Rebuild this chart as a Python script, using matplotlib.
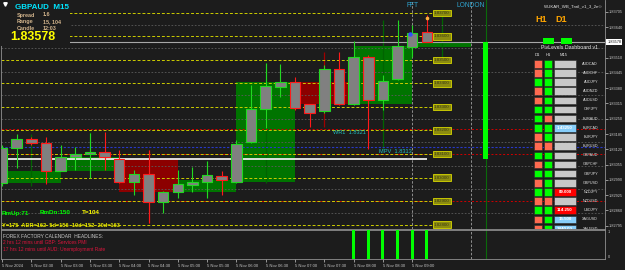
import matplotlib
matplotlib.use("Agg")
import matplotlib.pyplot as plt
import matplotlib.transforms as mtransforms
from matplotlib.patches import Rectangle
import numpy as np

plt.rcParams['font.family'] = ['Liberation Sans', 'DejaVu Sans']

# GBPAUD M15 candles, 5 Nov 2024 02:00 .. 09:15
opens = [1.82977, 1.83124, 1.83164, 1.83146, 1.83029, 1.83086, 1.83100, 1.83107,
         1.83078, 1.82980, 1.83015, 1.82897, 1.82940, 1.82968, 1.82980, 1.83006,
         1.82980, 1.83150, 1.83290, 1.83386, 1.83405, 1.83312, 1.83283, 1.83460,
         1.83312, 1.83512, 1.83330, 1.83418, 1.83557, 1.83618]
highs = [1.83138, 1.83185, 1.83172, 1.83172, 1.83138, 1.83129, 1.83191, 1.83192,
         1.83117, 1.83032, 1.83117, 1.82943, 1.83032, 1.83045, 1.83072, 1.83029,
         1.83160, 1.83394, 1.83486, 1.83483, 1.83426, 1.83313, 1.83479, 1.83535,
         1.83582, 1.83521, 1.83436, 1.83670, 1.83649, 1.83691]
lows = [1.82964, 1.83042, 1.83140, 1.82972, 1.83028, 1.83032, 1.82997, 1.83032,
        1.82977, 1.82926, 1.82808, 1.82849, 1.82913, 1.82940, 1.82913, 1.82926,
        1.82977, 1.83147, 1.83212, 1.83341, 1.83287, 1.83216, 1.83274, 1.83309,
        1.83309, 1.83120, 1.83287, 1.83415, 1.83514, 1.83578]
closes = [1.83126, 1.83164, 1.83146, 1.83029, 1.83086, 1.83100, 1.83107, 1.83086,
          1.82980, 1.83015, 1.82897, 1.82940, 1.82971, 1.82982, 1.83011, 1.82989,
          1.83141, 1.83292, 1.83389, 1.83405, 1.83294, 1.83273, 1.83460, 1.83312,
          1.83512, 1.83330, 1.83411, 1.83561, 1.83616, 1.83578]

time_labels = ['5 Nov 2024', '5 Nov 02:30', '5 Nov 03:00', '5 Nov 03:30', '5 Nov 04:00',
               '5 Nov 04:30', '5 Nov 05:00', '5 Nov 05:30', '5 Nov 06:00', '5 Nov 06:30',
               '5 Nov 07:00', '5 Nov 07:30', '5 Nov 08:00', '5 Nov 08:30', '5 Nov 09:00']

# signal sub-window (0/1 per candle)
signal = [0] * 24 + [1, 1, 1, 1, 1, 1]

round_levels = [1.83700, 1.83600, 1.83500, 1.83400, 1.83300,
                1.83200, 1.83100, 1.83000, 1.82900, 1.82800]
half_levels = [1.83650, 1.83550, 1.83450, 1.83350, 1.83250,
               1.83150, 1.83050, 1.82950, 1.82850]
price_ticks = [1.83705, 1.83640, 1.83510, 1.83445, 1.83380, 1.83315, 1.83250,
               1.83185, 1.83120, 1.83055, 1.82990, 1.82925, 1.82860, 1.82795]
red_levels = [1.83205, 1.83098, 1.82898]
wr1_level = 1.83205
mpv_level = 1.83128
day_start = 8          # candle index of the daily open
fft_bar, london_bar = 28, 32
d1_bar = 33.0

dash_pairs = ['AUDCAD', 'AUDCHF', 'AUDJPY', 'AUDNZD', 'AUDUSD', 'CHFJPY', 'EURAUD',
              'EURCAD', 'EURJPY', 'EURUSD', 'GBPAUD', 'GBPCHF', 'GBPJPY', 'GBPUSD',
              'NZDJPY', 'NZDUSD', 'USDJPY', 'XAGUSD', 'XAUUSD']
dash_d1 = ['dn', 'dn', 'up', 'dn', 'dn', 'up', 'up', 'up', 'dn', 'dn', 'up', 'dn',
           'up', 'dn', 'up', 'dn', 'up', 'dn', 'dn']
dash_h1 = ['up', 'up', 'up', 'up', 'up', 'up', 'dn', 'up', 'up', 'dn', 'up', 'up',
           'up', 'up', 'up', 'dn', 'up', 'up', 'up']
dash_m15 = ['', '', '', '', '', '', '', '1.43250', '', '', '', '', '', '',
            '89.000', '', '114.250', '15.500', '1440.00']
dash_m15_col = ['', '', '', '', '', '', '', 'blue', '', '', '', '', '', '',
                'red', '', 'red', 'blue', 'blue']

BG = '#1c1c1c'
UP, DN = '#22d822', '#ff1a1a'
ZONE_UP, ZONE_DN = '#007400', '#8c0000'
WICK_UP, WICK_DN = '#006400', '#a00000'

W, H = 625, 270
fig = plt.figure(figsize=(W / 100, H / 100), dpi=100, facecolor=BG)


def box(l, t, r, b):
    return [l / W, 1 - b / H, (r - l) / W, (b - t) / H]


ax = fig.add_axes(box(1.5, 0, 605, 229), facecolor=BG)
ax_sub = fig.add_axes(box(1.5, 230, 605, 259), facecolor=BG)
pxT = mtransforms.Affine2D().scale(1 / 100, -1 / 100).translate(0, H / 100) + fig.dpi_scale_trans

o = np.array(opens); h = np.array(highs); l = np.array(lows); c = np.array(closes)
n = len(o)
x = np.arange(n)
xlim = (-0.5 / 14.65, 603 / 14.65)

# hourly boxes and their wicks
for s in range(0, n, 4):
    e = min(s + 4, n)
    ho, hc = o[s], c[e - 1]
    up = hc >= ho
    ax.add_patch(Rectangle((s, min(ho, hc)), 4, abs(hc - ho),
                           fc=ZONE_UP if up else ZONE_DN, ec='none', zorder=1))
    ax.vlines(s + 2, l[s:e].min(), h[s:e].max(), colors=WICK_UP if up else WICK_DN,
              lw=0.9, zorder=1.2)

# level lines
for lv in half_levels:
    ax.axhline(lv, color='#5c5c5c', lw=0.6, ls=(0, (2, 2)), zorder=1.5)
for lv in red_levels:
    ax.axhline(lv, color='#d00000', lw=0.7, ls=(0, (2, 2)), zorder=1.8)
ax.axhline(mpv_level, color='#2838c8', lw=0.8, ls=(0, (2, 1.5)), zorder=1.8)
ax.hlines(round_levels, xlim[0], 29.35, colors='#cccc00', lw=0.7,
          linestyles=(0, (3, 2)), zorder=2)
ax.hlines(o[day_start], xlim[0], n - 1, colors='#ececec', lw=1.3, zorder=2.5)
ax.axhline(c[-1], xmin=0.113, color='#a8a8a8', lw=0.8, zorder=2.5)

for a in (ax, ax_sub):
    a.axvline(fft_bar, color='#a0a0a0', lw=0.6, ls=(0, (3, 2)), zorder=2)
    a.axvline(london_bar, color='#a0a0a0', lw=0.6, ls=(0, (3, 2)), zorder=2)
    a.axvline(d1_bar + 0.05, color='#0a6a0a', lw=0.8, zorder=2)

# daily body
ax.bar(d1_bar, c[-1] - o[day_start], bottom=o[day_start], width=0.34,
       color='#00ff00', zorder=3)

# candles
edge = np.where(c >= o, UP, DN)
ax.vlines(x, l, h, colors=edge, lw=0.8, zorder=4)
ax.bar(x, np.maximum(np.abs(c - o), 0.00002), bottom=np.minimum(o, c), width=0.72,
       color='#808080', edgecolor=edge, linewidth=0.8, zorder=5)

# round level tags
for lv in round_levels:
    ax.text(30.03, lv, f'{lv:.5f}', ha='center', va='center', fontsize=3.2,
            color='#3a3a10', zorder=6,
            bbox=dict(boxstyle='square,pad=0.3', fc='#8c8c10', ec='#d8d800', lw=0.6))

ax.text(22.6, 1.83190, 'WR1  1.8321', ha='left', va='center', fontsize=4.1,
        color='#20c0c0', zorder=7)
ax.text(25.7, 1.83109, 'MPV  1.8313', ha='left', va='center', fontsize=4.1,
        color='#20c0c0', zorder=7)
tb = mtransforms.blended_transform_factory(ax.transData, ax.transAxes)
ax.text(fft_bar, 0.974, 'FFT', transform=tb, ha='center', va='center', fontsize=4.8,
        color='#2fa4d0', zorder=7)
ax.text(london_bar, 0.974, 'LONDON', transform=tb, ha='center', va='center',
        fontsize=4.8, color='#2fa4d0', zorder=7)
ax.plot([27.85], [1.83611], marker='o', ms=2.2, color='#3050ff', zorder=7)
ax.plot([29], [1.83679], marker='o', ms=1.6, color='#ffb040', zorder=7)

# bid price tag on the axis
tr = mtransforms.blended_transform_factory(ax.transAxes, ax.transData)
ax.text(1.004, c[-1], f'{c[-1]:.5f}', transform=tr, ha='left', va='center',
        fontsize=2.8, color='#101010', zorder=9, clip_on=False,
        bbox=dict(boxstyle='square,pad=0.25', fc='white', ec='none'))

# top-left info
ax.add_patch(Rectangle((0, 0), 70, 46, transform=pxT, fc=BG, ec='none', zorder=6))
ax.plot([4.8], [3.8], transform=pxT, marker='v', ms=2.5, color='white', zorder=7,
        clip_on=False)
ax.text(15, 7.5, 'GBPAUD  M15', transform=pxT, ha='left', va='center', fontsize=5.8,
        fontweight='bold', color='#00e5ff', zorder=7)
for yy, k, v in [(15, 'Spread', '1.6'), (21.5, 'Range', '15, 104'), (28, 'Candle', '12:03')]:
    ax.text(17, yy, k, transform=pxT, ha='left', va='center', fontsize=3.9,
            fontweight='bold', color='#d2b48c', zorder=7)
    ax.text(43, yy, v, transform=pxT, ha='left', va='center', fontsize=3.9,
            fontweight='bold', color='#d2b48c', zorder=7)
ax.text(10, 37.5, f'{c[-1]:.5f}', transform=pxT, ha='left', va='center', fontsize=9,
        fontweight='bold', color='#ffff00', zorder=7)

# bottom-left info
ax.text(2, 213, 'RmUp:71', transform=pxT, ha='left', va='center', fontsize=4.5,
        fontweight='bold', color='#00ff00', zorder=7)
ax.text(40, 213, 'RmDn:150', transform=pxT, ha='left', va='center', fontsize=4.5,
        fontweight='bold', color='#00ff00', zorder=7)
ax.text(82, 213, 'T=104', transform=pxT, ha='left', va='center', fontsize=4.5,
        fontweight='bold', color='#ffff00', zorder=7)
ax.text(2, 225.5, 'Y=175  ADR=162  5d=156  10d=152  20d=163', transform=pxT,
        ha='left', va='center', fontsize=4.1, fontweight='bold', color='#e8e800', zorder=7)

# top-right
ax.text(573, 6, 'WUKAR_WB_Trail_v1_3_2e\u00a9', transform=pxT, ha='center', va='center',
        fontsize=3.2, color='#e0e0e0', zorder=7)
ax.text(541, 20, 'H1', transform=pxT, ha='center', va='center', fontsize=6.5,
        fontweight='bold', color='#ffa500', zorder=7)
ax.text(561, 20, 'D1', transform=pxT, ha='center', va='center', fontsize=6.5,
        fontweight='bold', color='#ffa500', zorder=7)
for x0 in (543, 561):
    ax.add_patch(Rectangle((x0, 38), 10.5, 6, transform=pxT, fc='#00ff00', ec='none', zorder=8))

# dashboard
ax.text(570, 47.5, 'PivLevels Dashboard v1', transform=pxT, ha='center', va='center',
        fontsize=3.8, color='#e8e8e8', zorder=9)
for xx, t in [(537.8, 'D1'), (547.8, 'H1'), (564, 'M15')]:
    ax.text(xx, 55, t, transform=pxT, ha='center', va='center', fontsize=3,
            color='#e8e8e8', zorder=9)
state_col = {'up': '#00ff00', 'dn': '#ff6a50'}
m15_col = {'': '#c8c8c8', 'blue': '#87cefa', 'red': '#ff0000'}
for k, pair in enumerate(dash_pairs):
    yc = 63.7 + 9.16 * k
    cells = [(534, 7.7, state_col[dash_d1[k]]), (544, 7.7, state_col[dash_h1[k]]),
             (554, 22, m15_col[dash_m15_col[k]])]
    for x0, w, fc in cells:
        ax.add_patch(Rectangle((x0, yc - 3.8), w, 7.6, transform=pxT, fc=fc,
                               ec='#2a2a2a', lw=0.4, zorder=8))
    if dash_m15[k]:
        ax.text(565, yc, dash_m15[k], transform=pxT, ha='center', va='center',
                fontsize=3.2, fontweight='bold', color='white', zorder=9, clip_on=True)
    ax.text(598, yc, pair, transform=pxT, ha='right', va='center', fontsize=2.7,
            color='#e0e0e0', zorder=9, clip_on=True)

# axes styling
ax.set_xlim(*xlim)
ax.set_ylim(1.82781, 1.83755)
ax.yaxis.tick_right()
ax.set_yticks(price_ticks, [f'{p:.5f}' for p in price_ticks])
ax.tick_params(axis='y', colors='#c8c8c8', labelsize=2.8, length=2, width=0.5, pad=1)
ax.tick_params(axis='x', bottom=False, labelbottom=False)
for sp in ax.spines.values():
    sp.set_color('#909090')
    sp.set_linewidth(0.6)
ax.spines['top'].set_visible(False)

# sub window
ax_sub.bar(x, signal, width=0.2, color='#00ff00', zorder=3)
ax_sub.set_xlim(*xlim)
ax_sub.set_ylim(0, 1)
ax_sub.yaxis.tick_right()
ax_sub.set_yticks([0, 1], ['0', '1'])
ax_sub.tick_params(axis='y', colors='#c8c8c8', labelsize=2.8, length=0, pad=2)
ylab = ax_sub.get_yticklabels()
ylab[0].set_va('bottom')
ylab[1].set_va('top')
ax_sub.set_xticks(x[::2], time_labels)
ax_sub.tick_params(axis='x', colors='#c8c8c8', labelsize=3, length=2, width=0.5, pad=1.5)
plt.setp(ax_sub.get_xticklabels(), ha='left')
for sp in ax_sub.spines.values():
    sp.set_color('#909090')
    sp.set_linewidth(0.6)
ax_sub.text(3, 236.5, 'FOREX FACTORY CALENDAR  HEADLINES:', transform=pxT, ha='left',
            va='center', fontsize=3.5, color='#c8c8c8', zorder=7)
ax_sub.text(3, 243, '2 hrs 12 mins until GBP: Services PMI', transform=pxT, ha='left',
            va='center', fontsize=3.5, color='#dc143c', zorder=7)
ax_sub.text(3, 249.5, '17 hrs 12 mins until AUD: Unemployment Rate', transform=pxT,
            ha='left', va='center', fontsize=3.5, color='#dc143c', zorder=7)

fig.savefig('out.png', dpi=100, facecolor=BG)
